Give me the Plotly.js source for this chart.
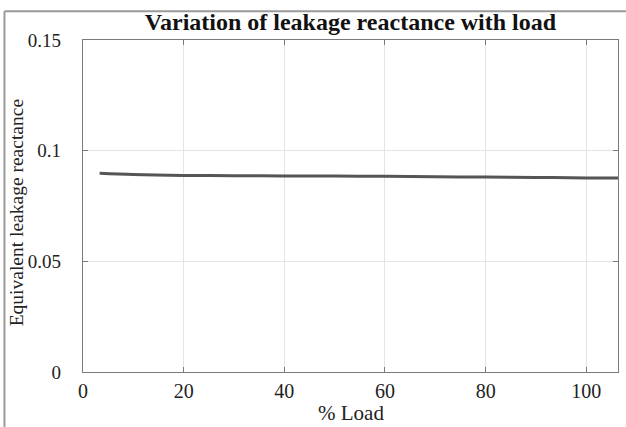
<!DOCTYPE html>
<html>
<head>
<meta charset="utf-8">
<script src="https://cdn.plot.ly/plotly-3.0.1.min.js"></script>
<style>html,body{margin:0;padding:0;background:#fff;}#chart{width:626px;height:427px;}</style>
</head>
<body>
<div id="chart"></div>
<script>
const loadPct = [3.3, 10, 20, 30, 40, 50, 60, 70, 80, 90, 100, 106.3];
const reactance = [0.0898, 0.0892, 0.0888, 0.0887, 0.0886, 0.0885, 0.0884, 0.0882, 0.0881, 0.0879, 0.0877, 0.0876];
const xTicks = [0, 20, 40, 60, 80, 100];
const yTicks = [0, 0.05, 0.1, 0.15];
const yTickText = ['0', '0.05', '0.1', '0.15'];
const xTitle = '% Load';
const yTitle = 'Equivalent leakage reactance';

const font = 'Liberation Serif, Times New Roman, serif';
const trace = {
  x: loadPct, y: reactance, type: 'scatter', mode: 'lines',
  line: {color: '#555555', width: 3, shape: 'spline'}, hoverinfo: 'skip'
};
const axisCommon = {
  showline: true, linecolor: '#7a7a7a', linewidth: 1.2, mirror: 'ticks',
  ticks: 'inside', ticklen: 5, tickcolor: '#7a7a7a', tickwidth: 1,
  showgrid: true, gridcolor: '#e4e4e4', gridwidth: 1, zeroline: false
};
const layout = {
  width: 626, height: 427,
  margin: {l: 83, r: 8, t: 40, b: 55},
  paper_bgcolor: '#fff', plot_bgcolor: '#fff',
  showlegend: false,
  title: {text: '<b>Variation of leakage reactance with load</b>', font: {family: font, size: 24, color: '#111'},
          x: 0.5, xref: 'paper', y: 0.95, yref: 'container', xanchor: 'center', yanchor: 'middle'},
  xaxis: Object.assign({}, axisCommon, {
    range: [0, 106.3], tickvals: xTicks, ticktext: xTicks.map(String), ticklabelstandoff: 1,
    tickfont: {family: font, size: 20, color: '#222'}
  }),
  yaxis: Object.assign({}, axisCommon, {
    range: [0, 0.15], tickvals: yTicks, ticktext: yTickText, ticklabelstandoff: 17,
    tickfont: {family: font, size: 19, color: '#222'}
  }),
  annotations: [
    {text: xTitle, xref: 'paper', yref: 'paper', x: 0.5, y: -0.124, xanchor: 'center', yanchor: 'middle',
     showarrow: false, font: {family: font, size: 21, color: '#222'}},
    {text: yTitle, xref: 'paper', yref: 'paper', x: -0.124, y: 0.48, xanchor: 'center', yanchor: 'middle',
     textangle: -90, showarrow: false, font: {family: font, size: 19.5, color: '#222'}}
  ],
  shapes: [
    {type: 'line', xref: 'paper', yref: 'paper', x0: -0.1468, x1: 1.02, y0: 1.0865, y1: 1.0865, line: {color: '#9a9a9a', width: 2}},
    {type: 'line', xref: 'paper', yref: 'paper', x0: -0.1468, x1: -0.1468, y0: 1.0865, y1: -0.2, line: {color: '#9a9a9a', width: 2}}
  ]
};
Plotly.newPlot('chart', [trace], layout, {displayModeBar: false, staticPlot: true});
</script>
</body>
</html>
